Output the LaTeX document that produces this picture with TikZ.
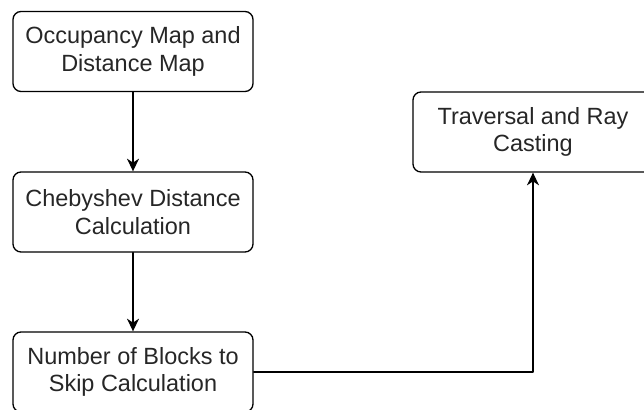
\documentclass[tikz,border=0pt]{standalone}
\usepackage{fontspec}
\setmainfont{Liberation Sans}
\usetikzlibrary{arrows.meta}
\begin{document}
\begin{tikzpicture}[x=0.75pt, y=0.75pt, line cap=round, line join=round,
	font=\fontsize{17.6}{20.5}\selectfont,
	box/.style={draw, line width=1pt, rounded corners=6pt, minimum width=180pt,
		minimum height=60pt, align=center, text=black!85},
	flow/.style={line width=1pt, -{Stealth[length=9.5pt, width=9pt, inset=3pt]}}]
	\useasboundingbox (0,0) rectangle (644,410);
	\node[box] (occ) at (133,358.5) {Occupancy Map and\\Distance Map};
	\node[box] (cheb) at (133,198) {Chebyshev Distance\\Calculation};
	\node[box] (skip) at (133,38) {Number of Blocks to\\Skip Calculation};
	\node[box] (ray) at (533,278) {Traversal and Ray\\Casting};
	\draw[flow] (occ)--(cheb);
	\draw[flow] (cheb)--(skip);
	\draw[flow] (skip.east) -| (ray.south);
\end{tikzpicture}
\end{document}
